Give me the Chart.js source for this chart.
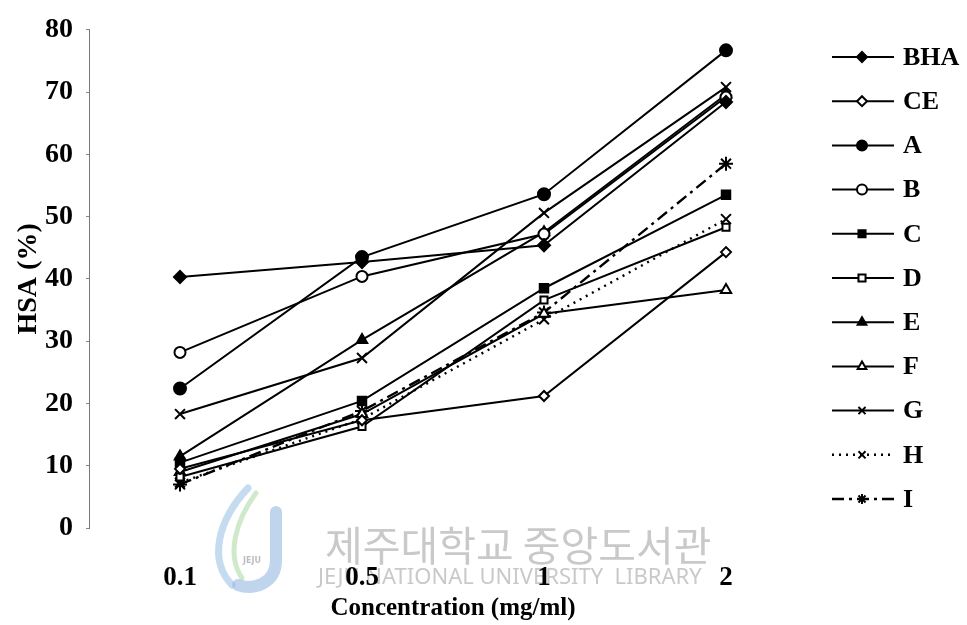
<!DOCTYPE html>
<html>
<head>
<meta charset="utf-8">
<script src="https://cdn.jsdelivr.net/npm/chart.js@4/dist/chart.umd.min.js"></script>
<style>
  html, body { margin: 0; padding: 0; background: #fff; }
  #wrap { width: 967px; height: 625px; position: relative; }
</style>
</head>
<body>
<div id="wrap"><canvas id="c" width="967" height="625"></canvas></div>
<script>
// Concentration levels (mg/ml)
const concentrations = ['0.1', '0.5', '1', '2'];

// Hydroxyl radical scavenging activity (%) per sample
const bha = [40.3, 42.7, 45.4, 68.4];
const ce  = [9.5, 17.3, 21.2, 44.3];
const a   = [22.4, 43.5, 53.6, 76.7];
const b   = [28.2, 40.4, 47.2, 69.2];
const c   = [10.5, 20.4, 38.5, 53.5];
const d   = [8.2, 16.3, 36.6, 48.3];
const e   = [11.5, 30.2, 47.5, 69.6];
const f   = [9.0, 18.3, 34.4, 38.2];
const g   = [18.3, 27.3, 50.6, 70.8];
const h   = [7.3, 17.5, 33.5, 49.6];
const i9  = [7.0, 18.8, 34.6, 58.5];

const seriesNames = ['BHA', 'CE', 'A', 'B', 'C', 'D', 'E', 'F', 'G', 'H', 'I'];
const seriesValues = [bha, ce, a, b, c, d, e, f, g, h, i9];

// marker style per series: [pointStyle, filled, radius]
const markers = [
  ['rectRot', true, 6], ['rectRot', false, 5], ['circle', true, 6], ['circle', false, 5.5],
  ['rect', true, 6], ['rect', false, 5], ['triangle', true, 6], ['triangle', false, 6],
  ['crossRot', false, 7], ['crossRot', false, 7], ['star', false, 7]
];
const dashes = [[], [], [], [], [], [], [], [], [], [2, 5], [12, 5, 3, 5]];

const SERIF = '"Liberation Serif", "Times New Roman", serif';

const datasets = seriesNames.map((name, k) => ({
  label: name,
  data: seriesValues[k],
  borderColor: '#000',
  borderWidth: k >= 9 ? 2.4 : 2,
  borderDash: dashes[k],
  pointStyle: markers[k][0],
  pointRadius: markers[k][2],
  pointHoverRadius: markers[k][2],
  pointBackgroundColor: markers[k][1] ? '#000' : '#fff',
  pointBorderColor: '#000',
  pointBorderWidth: 2,
  tension: 0,
  fill: false
}));

// Faint library watermark across the bottom
const watermark = {
  id: 'watermark',
  beforeDraw(chart) {
    const ctx = chart.ctx;
    ctx.save();
    // logo swooshes
    ctx.lineCap = 'round';
    ctx.strokeStyle = 'rgba(150,190,225,0.55)';
    ctx.lineWidth = 7;
    ctx.beginPath();
    ctx.moveTo(232, 585); ctx.bezierCurveTo(208, 560, 218, 520, 248, 488);
    ctx.stroke();
    ctx.strokeStyle = 'rgba(170,215,160,0.55)';
    ctx.lineWidth = 5;
    ctx.beginPath();
    ctx.moveTo(242, 578); ctx.bezierCurveTo(226, 555, 236, 520, 256, 493);
    ctx.stroke();
    ctx.strokeStyle = 'rgba(150,185,225,0.6)';
    ctx.lineWidth = 12;
    ctx.beginPath();
    ctx.moveTo(276, 512); ctx.lineTo(276, 560);
    ctx.bezierCurveTo(276, 585, 252, 590, 238, 585);
    ctx.stroke();
    ctx.fillStyle = 'rgba(160,160,170,0.7)';
    ctx.font = 'bold 8px "DejaVu Sans"';
    ctx.textAlign = 'center';
    ctx.fillText('JEJU', 252, 563);
    // text
    ctx.fillStyle = '#c9c9c9';
    ctx.textBaseline = 'middle';
    ctx.textAlign = 'left';
    ctx.font = '41px "Noto Sans CJK KR"';
    ctx.fillText('제주대학교 중앙도서관', 325, 545);
    ctx.font = '22px "Noto Sans", "DejaVu Sans", sans-serif';
    ctx.fillText('JEJU NATIONAL UNIVERSITY  LIBRARY', 318, 578);
    ctx.restore();
  }
};

// Legend: short line sample with its marker, name to the right
const sideLegend = {
  id: 'sideLegend',
  afterDraw(chart) {
    const ctx = chart.ctx;
    ctx.save();
    chart.data.datasets.forEach((ds, k) => {
      const y = 57 + k * 44.2;
      ctx.strokeStyle = '#000';
      ctx.lineWidth = ds.borderWidth;
      ctx.setLineDash(ds.borderDash || []);
      ctx.beginPath();
      ctx.moveTo(832, y); ctx.lineTo(894, y);
      ctx.stroke();
      ctx.setLineDash([]);
      ctx.fillStyle = ds.pointBackgroundColor;
      ctx.strokeStyle = '#000';
      ctx.lineWidth = 2;
      Chart.helpers.drawPoint(ctx, {
        pointStyle: ds.pointStyle, radius: 5, rotation: 0, borderWidth: 2
      }, 862, y);
      ctx.fillStyle = '#000';
      ctx.font = 'bold 26px ' + SERIF;
      ctx.textBaseline = 'middle';
      ctx.textAlign = 'left';
      ctx.fillText(ds.label, 903, y + 1);
    });
    ctx.restore();
  }
};

new Chart(document.getElementById('c'), {
  type: 'line',
  data: { labels: concentrations, datasets },
  plugins: [watermark, sideLegend],
  options: {
    responsive: false,
    animation: false,
    devicePixelRatio: 1,
    layout: { padding: { top: 22, right: 150, bottom: 0, left: 0 } },
    plugins: { legend: { display: false }, tooltip: { enabled: false } },
    scales: {
      x: {
        offset: true,
        grid: { display: false, drawTicks: false },
        border: { display: false },
        ticks: { color: '#000', padding: 34, font: { family: SERIF, size: 27, weight: 'bold' } },
        title: {
          display: true, text: 'Concentration (mg/ml)', color: '#000',
          font: { family: SERIF, size: 25, weight: 'bold' }, padding: { top: 0, bottom: 1 }
        },
        afterFit(scale) { scale.height = 97; }
      },
      y: {
        min: 0, max: 80,
        ticks: { stepSize: 10, color: '#000', padding: 13, font: { family: SERIF, size: 28, weight: 'bold' } },
        grid: { drawOnChartArea: false, drawTicks: true, tickLength: 3, color: '#888', lineWidth: 1 },
        border: { display: true, color: '#777', width: 1, dash: [7, 3] },
        title: {
          display: true, text: 'HSA (%)', color: '#000',
          font: { family: SERIF, size: 28, weight: 'bold' }, padding: { top: 12, bottom: 0 }
        },
        afterFit(scale) { scale.width = 89; }
      }
    }
  }
});
</script>
</body>
</html>
